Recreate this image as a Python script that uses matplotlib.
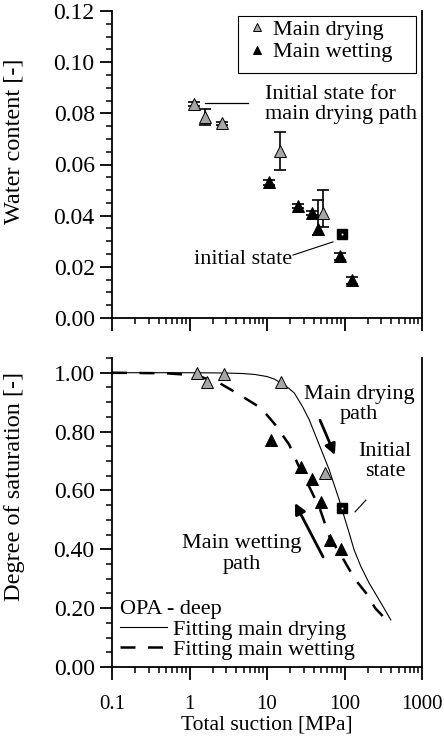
import matplotlib
matplotlib.use("Agg")
import matplotlib.pyplot as plt
from matplotlib.lines import Line2D
from matplotlib.patches import Rectangle
from matplotlib.ticker import MultipleLocator, LogLocator, NullFormatter, FixedLocator, FixedFormatter

plt.rcParams['font.family'] = ['Liberation Serif', 'DejaVu Serif']
plt.rcParams['font.size'] = 16

FS = 16        # annotation / legend text
FS_XT = 15     # x tick labels
FS_YT = 17     # y tick labels
FS_YL = 17.5   # y axis labels

# ---------------- data ----------------
# Top panel: water content vs total suction
dry_s_w = [1.14, 1.58, 2.6, 14.7, 53.3]
dry_w = [0.0836, 0.0786, 0.0762, 0.0654, 0.0412]
dry_w_err_lo = [0.0008, 0.0030, 0.0006, 0.0074, 0.0055]
dry_w_err_hi = [0.0008, 0.0030, 0.0006, 0.0074, 0.0087]

wet_s_w = [10.6, 25.4, 37.8, 45.9, 87.5, 124.0]
wet_w = [0.0530, 0.0438, 0.0412, 0.0349, 0.0241, 0.0147]
wet_w_err_lo = [0.0010, 0.0008, 0.0008, 0.0025, 0.0015, 0.0013]
wet_w_err_hi = [0.0010, 0.0008, 0.0008, 0.0113, 0.0015, 0.0013]

init_s_w = [92.0]
init_w = [0.0327]

# Bottom panel: degree of saturation vs total suction
dry_s_sr = [1.25, 1.68, 2.81, 15.1, 56.0]
dry_sr = [1.00, 0.97, 0.995, 0.97, 0.66]

wet_s_sr = [11.2, 27.5, 38.5, 49.2, 64.7, 89.0]
wet_sr = [0.77, 0.68, 0.64, 0.56, 0.43, 0.40]

init_s_sr = [94.0]
init_sr = [0.54]

# Fitted curves
fit_dry_s = [0.1, 1.0, 3.0, 5.0, 7.0, 10.0, 12.5, 15.1, 18.5, 22.5, 28.7, 35.1, 42.8,
             52.1, 63.5, 73.6, 85.4, 99.1, 115.0, 133.0, 163.0, 208.0, 280.0, 396.0]
fit_dry_sr = [1.0, 1.0, 0.999, 0.997, 0.994, 0.987, 0.978, 0.965, 0.95, 0.931, 0.885,
              0.840, 0.783, 0.727, 0.670, 0.619, 0.568, 0.511, 0.455, 0.398, 0.341,
              0.285, 0.228, 0.160]

fit_wet_s = [0.1, 0.5, 1.22, 2.43, 4.06, 8.37, 12.8, 19.4, 25.5, 35.8, 48.2, 64.9,
             92.5, 135.0, 198.0, 249.0, 341.0]
fit_wet_sr = [1.0, 0.998, 0.991, 0.965, 0.931, 0.880, 0.823, 0.755, 0.684, 0.608, 0.537,
              0.438, 0.375, 0.30, 0.245, 0.200, 0.162]

xticks = [0.1, 1, 10, 100, 1000]
xtick_labels = ['0.1', '1', '10', '100', '1000']

GREY = '#a6a6a6'

fig = plt.figure(figsize=(4.44, 7.49), dpi=100)
ax1 = fig.add_axes([112/444, (749-318)/749, 310/444, (318-11)/749])
ax2 = fig.add_axes([112/444, (749-667)/749, 310/444, (667-358)/749])


def style_axis(ax):
    ax.set_xscale('log')
    ax.set_xlim(0.1, 1000)
    ax.spines['top'].set_visible(False)
    for sp in ('left', 'right', 'bottom'):
        ax.spines[sp].set_linewidth(1.3)
    ax.xaxis.set_major_locator(FixedLocator(xticks))
    ax.xaxis.set_minor_locator(LogLocator(base=10, subs=range(2, 10)))
    ax.xaxis.set_minor_formatter(NullFormatter())
    ax.tick_params(which='major', direction='out', length=9, width=1.3)
    ax.tick_params(which='minor', direction='out', length=4.5, width=1.1)
    ax.tick_params(axis='x', which='both', top=False)
    ax.tick_params(axis='y', which='both', right=False, pad=3.5, labelsize=FS_YT)
    ax.tick_params(axis='x', which='major', pad=11, labelsize=FS_XT)


# ---------------- top panel ----------------
style_axis(ax1)
ax1.set_ylim(0, 0.12)
ax1.yaxis.set_major_locator(MultipleLocator(0.02))
ax1.yaxis.set_minor_locator(MultipleLocator(0.005))
ax1.yaxis.set_major_formatter(plt.FuncFormatter(lambda v, p: f'{v:.2f}'))
ax1.xaxis.set_major_formatter(NullFormatter())
ax1.set_ylabel('Water content [-]', fontsize=FS_YL)
ax1.yaxis.set_label_coords(-0.281, 0.577)

ax1.errorbar(dry_s_w, dry_w, yerr=[dry_w_err_lo, dry_w_err_hi], fmt='none',
             ecolor='black', elinewidth=1.2, capsize=4.5, capthick=1.2, zorder=2)
ax1.errorbar(wet_s_w, wet_w, yerr=[wet_w_err_lo, wet_w_err_hi], fmt='none',
             ecolor='black', elinewidth=1.2, capsize=4.5, capthick=1.2, zorder=2)
ax1.plot(dry_s_w, dry_w, linestyle='none', marker='^', ms=8.5, mfc=GREY, mec='black',
         mew=0.7, zorder=4, label='Main drying')
ax1.plot(wet_s_w, wet_w, linestyle='none', marker='^', ms=8.5, mfc='black', mec='black',
         mew=0.7, zorder=4, label='Main wetting')
ax1.plot(init_s_w, init_w, linestyle='none', marker='s', ms=7.5, mfc='black', mec='black', zorder=5)
ax1.plot(init_s_w, init_w, linestyle='none', marker='s', ms=1.0, mfc='white', mec='white', mew=0.2, zorder=6)

# legend box drawn as a plain rectangle, entries placed inside it
ax1.add_patch(Rectangle((0.406, 0.798), 0.575, 0.186, transform=ax1.transAxes,
                        facecolor='white', edgecolor='black', lw=0.8, zorder=7))
leg1 = ax1.legend(loc='upper left', bbox_to_anchor=(0.439, 0.974), borderaxespad=0,
                  frameon=False, handlelength=0.8, handletextpad=0.3, borderpad=0,
                  labelspacing=0.1, markerscale=0.75, fontsize=FS)
leg1.set_zorder(8)

ax1.text(0.4935, 0.695, 'Initial state for\nmain drying path', transform=ax1.transAxes,
         ha='left', va='center', fontsize=FS, linespacing=1.1)
ax1.add_line(Line2D([0.300, 0.439], [0.699, 0.699], transform=ax1.transAxes,
                    color='black', lw=0.9))
ax1.text(0.424, 0.189, 'initial state', transform=ax1.transAxes,
         ha='center', va='center', fontsize=FS)
ax1.add_line(Line2D([0.584, 0.713], [0.205, 0.248], transform=ax1.transAxes,
                    color='black', lw=0.8))

# ---------------- bottom panel ----------------
style_axis(ax2)
ax2.set_ylim(0, 1.05)
ax2.yaxis.set_major_locator(MultipleLocator(0.2))
ax2.yaxis.set_minor_locator(MultipleLocator(0.05))
ax2.yaxis.set_major_formatter(plt.FuncFormatter(lambda v, p: f'{v:.2f}'))
ax2.xaxis.set_major_formatter(FixedFormatter(xtick_labels))
ax2.set_ylabel('Degree of saturation [-]', fontsize=FS_YL)
ax2.yaxis.set_label_coords(-0.281, 0.583)
ax2.set_xlabel('Total suction [MPa]', fontsize=15.5, labelpad=1)

ax2.plot(fit_dry_s, fit_dry_sr, color='black', lw=0.8, zorder=2, label='Fitting main drying')
ax2.plot(fit_wet_s, fit_wet_sr, color='black', lw=1.8, dashes=(6, 5), zorder=2,
         label='Fitting main wetting')
ax2.plot(dry_s_sr, dry_sr, linestyle='none', marker='^', ms=8.5, mfc=GREY, mec='black',
         mew=0.7, zorder=4)
ax2.plot(wet_s_sr, wet_sr, linestyle='none', marker='^', ms=8.5, mfc='black', mec='black',
         mew=0.7, zorder=4)
ax2.plot(init_s_sr, init_sr, linestyle='none', marker='s', ms=7.5, mfc='black', mec='black', zorder=5)
ax2.plot(init_s_sr, init_sr, linestyle='none', marker='s', ms=1.0, mfc='white', mec='white', mew=0.2, zorder=6)

leg2 = ax2.legend(loc='lower left', bbox_to_anchor=(0.026, 0.022), borderaxespad=0,
                  frameon=False, title='OPA - deep', alignment='left',
                  handlelength=2.1, handletextpad=0.3, borderpad=0, labelspacing=0.0,
                  fontsize=FS, title_fontsize=FS)
leg2._legend_box.sep = 0

ax2.text(0.797, 0.849, 'Main drying\npath', transform=ax2.transAxes,
         ha='center', va='center', fontsize=FS, linespacing=1.1)
ax2.text(0.881, 0.665, 'Initial\nstate', transform=ax2.transAxes,
         ha='center', va='center', fontsize=FS, linespacing=1.1)
ax2.add_line(Line2D([0.784, 0.819], [0.502, 0.540], transform=ax2.transAxes,
                    color='black', lw=0.8))
ax2.text(0.419, 0.366, 'Main wetting\npath', transform=ax2.transAxes,
         ha='center', va='center', fontsize=FS, linespacing=1.1)

arrow_kw = dict(arrowstyle='-|>', lw=2.0, color='black', mutation_scale=16,
                shrinkA=0, shrinkB=0)
ax2.annotate('', xy=(0.719, 0.686), xytext=(0.671, 0.799), xycoords='axes fraction',
             textcoords='axes fraction', arrowprops=arrow_kw)
ax2.annotate('', xy=(0.590, 0.531), xytext=(0.681, 0.356), xycoords='axes fraction',
             textcoords='axes fraction', arrowprops=arrow_kw)

fig.savefig('out.png', dpi=100)
